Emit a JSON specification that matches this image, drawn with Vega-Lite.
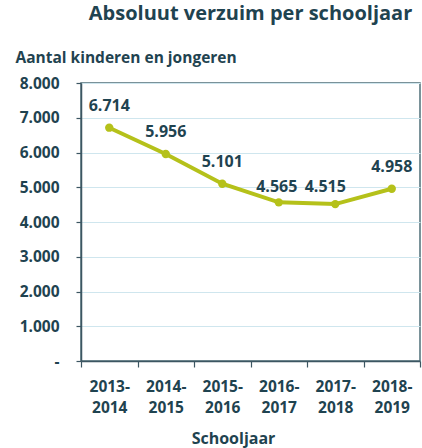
{
  "$schema": "https://vega.github.io/schema/vega-lite/v6.json",
  "width": 339,
  "height": 278,
  "autosize": "none",
  "padding": {"left": 81, "top": 83, "right": 2, "bottom": 87},
  "background": "white",
  "view": {"stroke": "#4f6f78", "strokeWidth": 1.5, "fill": "white"},
  "config": {
    "locale": {"number": {"decimal": ",", "thousands": ".", "grouping": [3], "currency": ["€", ""]}},
    "font": "Open Sans",
    "title": {"font": "Open Sans", "fontSize": 20, "fontWeight": "bold", "color": "#1f4350"}
  },
  "title": {"text": "Absoluut verzuim per schooljaar", "anchor": "middle", "frame": "group", "baseline": "alphabetic", "offset": 10},
  "data": {
    "values": [
      {"jaar": "2013-2014", "aantal": 6714},
      {"jaar": "2014-2015", "aantal": 5956},
      {"jaar": "2015-2016", "aantal": 5101},
      {"jaar": "2016-2017", "aantal": 4565},
      {"jaar": "2017-2018", "aantal": 4515},
      {"jaar": "2018-2019", "aantal": 4958}
    ]
  },
  "encoding": {
    "x": {
      "field": "jaar", "type": "ordinal", "sort": null,
      "scale": {"paddingInner": 0, "paddingOuter": 0},
      "axis": {
        "title": "Schooljaar",
        "titleFont": "Open Sans", "titleFontSize": 16, "titleFontWeight": "bold", "titleColor": "#1f4350",
        "titleX": 152, "titleY": 82, "titleBaseline": "alphabetic", "titleAnchor": "middle",
        "labelAngle": 0,
        "labelExpr": "[slice(datum.label, 0, 5), slice(datum.label, 5)]",
        "labelFont": "Open Sans", "labelFontSize": 15.5, "labelFontWeight": "bold", "labelColor": "#1f4350",
        "labelLineHeight": 21, "labelPadding": 12,
        "bandPosition": 0,
        "tickBand": "extent",
        "tickSize": 6, "tickColor": "#3c5662", "tickWidth": 1.2,
        "domainColor": "#3c5662", "domainWidth": 1.5,
        "grid": false
      }
    },
    "y": {
      "field": "aantal", "type": "quantitative",
      "scale": {"domain": [0, 8000]},
      "axis": {
        "title": "Aantal kinderen en jongeren",
        "titleAngle": 0, "titleAlign": "left", "titleBaseline": "alphabetic",
        "titleX": -66, "titleY": -21,
        "titleFont": "Open Sans", "titleFontSize": 15.5, "titleFontWeight": "bold", "titleColor": "#1f4350",
        "values": [0, 1000, 2000, 3000, 4000, 5000, 6000, 7000, 8000],
        "format": ",.0f",
        "labelExpr": "datum.value == 0 ? '-   ' : datum.label",
        "labelFont": "Open Sans", "labelFontSize": 15.5, "labelFontWeight": "bold", "labelColor": "#1f4350",
        "labelPadding": 17,
        "tickSize": 5, "tickColor": "#3c5662", "tickWidth": 1.2,
        "domainColor": "#3c5662", "domainWidth": 1.5,
        "grid": true, "gridColor": "#cfe6ee", "gridWidth": 1
      }
    }
  },
  "layer": [
    {"mark": {"type": "line", "color": "#b5c11a", "strokeWidth": 4}},
    {"mark": {"type": "point", "filled": true, "color": "#b5c11a", "size": 70, "opacity": 1}},
    {
      "transform": [{"filter": "datum.jaar != '2016-2017' && datum.jaar != '2017-2018'"}],
      "mark": {"type": "text", "dy": -22, "font": "Open Sans", "fontSize": 16, "fontWeight": "bold", "color": "#1f4350", "baseline": "middle"},
      "encoding": {"text": {"field": "aantal", "type": "quantitative", "format": ",.0f"}}
    },
    {
      "transform": [{"filter": "datum.jaar == '2016-2017'"}],
      "mark": {"type": "text", "dy": -15, "dx": -2, "font": "Open Sans", "fontSize": 16, "fontWeight": "bold", "color": "#1f4350", "baseline": "middle"},
      "encoding": {"text": {"field": "aantal", "type": "quantitative", "format": ",.0f"}}
    },
    {
      "transform": [{"filter": "datum.jaar == '2017-2018'"}],
      "mark": {"type": "text", "dy": -17, "dx": -10, "font": "Open Sans", "fontSize": 16, "fontWeight": "bold", "color": "#1f4350", "baseline": "middle"},
      "encoding": {"text": {"field": "aantal", "type": "quantitative", "format": ",.0f"}}
    }
  ]
}
